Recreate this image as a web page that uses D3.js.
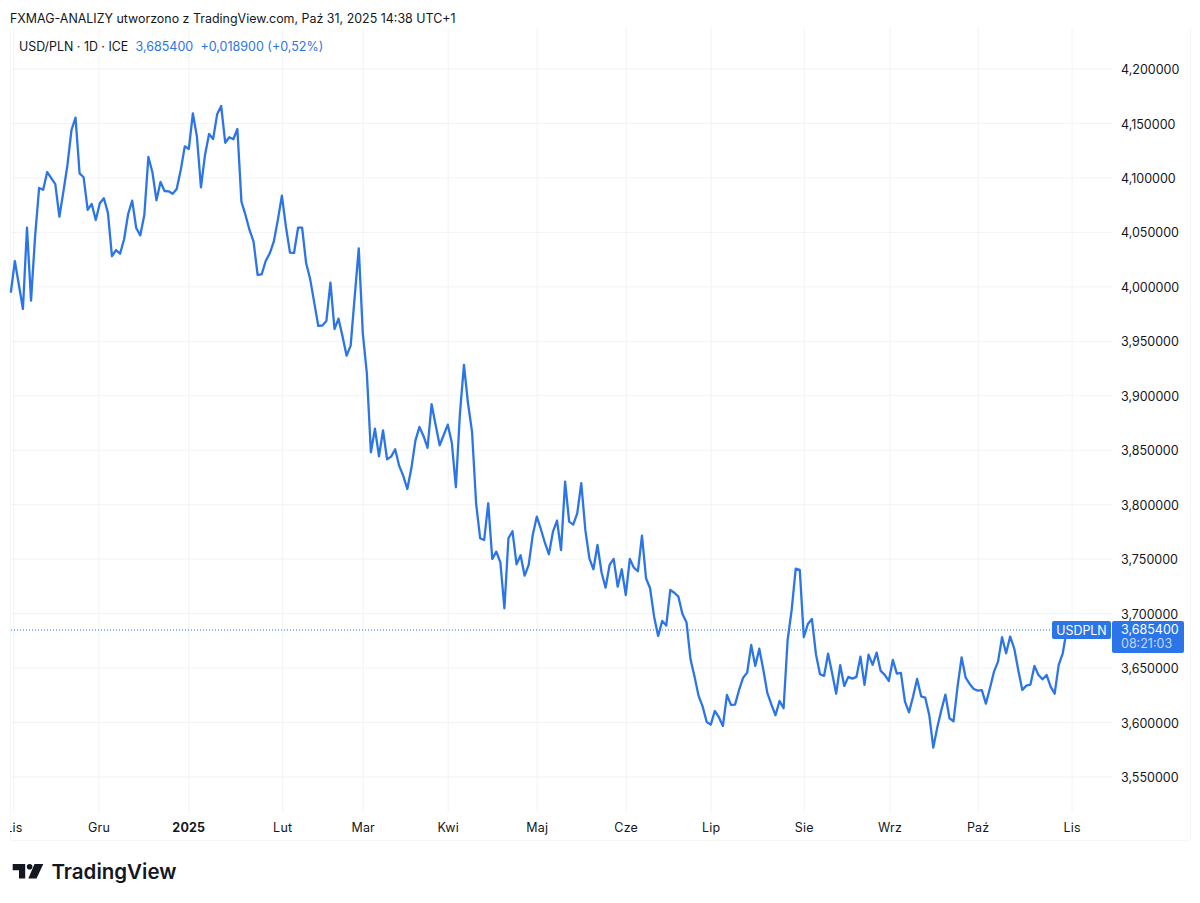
<!DOCTYPE html>
<html lang="pl">
<head>
<meta charset="utf-8">
<title>USD/PLN</title>
<script src="https://cdn.jsdelivr.net/npm/d3@7/dist/d3.min.js"></script>
<style>
html,body{margin:0;padding:0;background:#fff}
svg{display:block}
text{font-family:Inter,"Noto Sans",sans-serif}
</style>
</head>
<body>
<svg id="chart" width="1200" height="903"></svg>
<script>
// Daily USD/PLN closes, first session to last
const closes = [
3.9946,4.0237,4.0017,3.9797,4.0543,3.9873,4.0461,4.0908,4.0892,4.1054,4.0999,4.0944,4.0644,4.0874,4.1119,4.1440,4.1553,4.1042,4.1006,4.0706,
4.0761,4.0614,4.0767,4.0813,4.0681,4.0281,4.0338,4.0304,4.0437,4.0669,4.0791,4.0540,4.0473,4.0660,4.1192,4.1052,4.0795,4.0963,4.0880,4.0877,
4.0855,4.0898,4.1073,4.1290,4.1266,4.1593,4.1379,4.0914,4.1211,4.1403,4.1357,4.1584,4.1660,4.1323,4.1373,4.1355,4.1449,4.0782,4.0660,4.0522,
4.0415,4.0109,4.0115,4.0237,4.0308,4.0415,4.0614,4.0837,4.0552,4.0314,4.0311,4.0543,4.0543,4.0216,4.0069,3.9855,3.9641,3.9645,3.9687,4.0038,
3.9613,3.9708,3.9543,3.9368,3.9460,3.9910,4.0354,3.9574,3.9206,3.8481,3.8698,3.8445,3.8683,3.8417,3.8441,3.8509,3.8356,3.8264,3.8144,3.8334,
3.8588,3.8714,3.8631,3.8521,3.8922,3.8732,3.8546,3.8640,3.8735,3.8569,3.8160,3.8833,3.9283,3.8931,3.8670,3.8013,3.7692,3.7676,3.8013,3.7502,
3.7569,3.7471,3.7049,3.7692,3.7756,3.7453,3.7536,3.7348,3.7447,3.7722,3.7890,3.7777,3.7651,3.7545,3.7752,3.7853,3.7584,3.8211,3.7844,3.7817,
3.7921,3.8197,3.7768,3.7508,3.7407,3.7630,3.7380,3.7238,3.7447,3.7502,3.7247,3.7407,3.7171,3.7502,3.7422,3.7389,3.7716,3.7325,3.7233,3.6972,
3.6795,3.6933,3.6890,3.7217,3.7192,3.7156,3.6997,3.6921,3.6581,3.6421,3.6244,3.6146,3.6005,3.5981,3.6106,3.6049,3.5969,3.6253,3.6162,3.6164,
3.6299,3.6412,3.6458,3.6712,3.6520,3.6678,3.6483,3.6269,3.6165,3.6067,3.6198,3.6131,3.6758,3.7034,3.7413,3.7401,3.6783,3.6905,3.6951,3.6627,
3.6443,3.6428,3.6632,3.6453,3.6265,3.6526,3.6336,3.6419,3.6403,3.6419,3.6605,3.6345,3.6623,3.6529,3.6642,3.6474,3.6437,3.6382,3.6575,3.6449,
3.6455,3.6192,3.6094,3.6238,3.6400,3.6241,3.6229,3.6070,3.5770,3.5957,3.6116,3.6256,3.6039,3.6012,3.6330,3.6599,3.6412,3.6354,3.6308,3.6293,
3.6297,3.6174,3.6315,3.6467,3.6559,3.6783,3.6636,3.6789,3.6682,3.6483,3.6299,3.6339,3.6348,3.6520,3.6437,3.6397,3.6437,3.6330,3.6265,3.6529,
3.6636,3.6854];

// Price gridlines and their labels
const priceTicks = [4.2,4.15,4.1,4.05,4.0,3.95,3.9,3.85,3.8,3.75,3.7,3.65,3.6,3.55];

// Month boundaries on the time axis, as session numbers
const monthLabels = ["Lis","Gru","2025","Lut","Mar","Kwi","Maj","Cze","Lip","Sie","Wrz","Paź","Lis"];
const monthSessions = [0.75,21.8,44,67.2,87.1,108.1,130.1,152.1,173.1,196.1,217.3,239.1,262.3];

const lastClose = 3.6854;
const plPrice = d3.formatLocale({decimal:",",thousands:" ",grouping:[3],currency:["","zł"]}).format(".6f");

const ink = "#131722", blue = "#2c75e8", grid = "#f1f3f6";
const svg = d3.select("#chart");

const x = d3.scaleLinear().domain([0, closes.length - 1]).range([10.8, 1066.8]);
const y = d3.scaleLinear().domain([4.2, 3.55]).range([69, 777]);

// Horizontal and vertical gridlines
svg.append("g").selectAll("line").data(priceTicks).join("line")
  .attr("x1", 11).attr("x2", 1112).attr("y1", d => y(d)).attr("y2", d => y(d))
  .attr("stroke", grid).attr("stroke-width", 1);
svg.append("g").selectAll("line").data(monthSessions).join("line")
  .attr("x1", d => x(d)).attr("x2", d => x(d)).attr("y1", 28).attr("y2", 812)
  .attr("stroke", grid).attr("stroke-width", 1);

// Pane edges
svg.append("path").attr("d", "M10.5,28V840M10.5,840.5H1190M1190.5,28V840")
  .attr("fill", "none").attr("stroke", "#f5f6f8");

// Price axis
const yAxis = d3.axisRight(y).tickValues(priceTicks).tickFormat(plPrice).tickSize(0).tickPadding(0);
const yG = svg.append("g").attr("transform", "translate(1121,0.6)").call(yAxis);
yG.select(".domain").remove();
yG.selectAll("text").attr("font-size", 12.5).attr("fill", ink).attr("font-family", "Inter");

// Time axis, clipped at the pane edge
svg.append("clipPath").attr("id", "paneClip").append("rect").attr("x", 10).attr("y", 812).attr("width", 1180).attr("height", 28);
svg.append("g").attr("clip-path", "url(#paneClip)").selectAll("text").data(monthLabels).join("text")
  .attr("x", (d, i) => x(monthSessions[i]))
  .attr("y", 831.5).attr("text-anchor", "middle")
  .attr("font-size", 12.5).attr("letter-spacing", 0.2)
  .attr("font-weight", d => d === "2025" ? 700 : 400)
  .attr("fill", ink).text(d => d);

// Last-price dotted level
svg.append("line").attr("x1", 11).attr("x2", 1052).attr("y1", y(lastClose) + 0.5).attr("y2", y(lastClose) + 0.5)
  .attr("stroke", "#1f6fe8").attr("stroke-width", 1).attr("stroke-dasharray", "1 2");

// Close line
const line = d3.line().x((d, i) => x(i)).y(d => y(d)).curve(d3.curveLinear);
svg.append("path").datum(closes).attr("d", line)
  .attr("fill", "none").attr("stroke", blue).attr("stroke-width", 2.3).attr("stroke-linejoin", "round");

// Symbol tag and price tag
svg.append("rect").attr("x", 1052).attr("y", 621).attr("width", 59).attr("height", 18).attr("rx", 2).attr("fill", blue);
svg.append("text").attr("x", 1081.5).attr("y", 634.5).attr("text-anchor", "middle").attr("font-size", 12.4).attr("fill", "#fff").text("USDPLN");
svg.append("rect").attr("x", 1112).attr("y", 621).attr("width", 72).attr("height", 32).attr("rx", 2).attr("fill", blue);
svg.append("text").attr("x", 1121).attr("y", 634).attr("font-size", 12.5).attr("fill", "#fff").text(plPrice(lastClose));
svg.append("text").attr("x", 1121).attr("y", 648).attr("font-size", 12.5).attr("fill", "#fff").attr("fill-opacity", 0.72).text("08:21:03");

// Header lines
svg.append("text").attr("x", 10).attr("y", 22.5).attr("font-size", 12.45).attr("fill", ink)
  .text("FXMAG-ANALIZY utworzono z TradingView.com, Paź 31, 2025 14:38 UTC+1");
svg.append("text").attr("x", 19).attr("y", 51).attr("font-size", 12.4).attr("fill", ink).text("USD/PLN · 1D · ICE");
svg.append("text").attr("x", 135.5).attr("y", 51).attr("font-size", 12.5).attr("fill", blue).text(plPrice(lastClose));
svg.append("text").attr("x", 200.5).attr("y", 51).attr("font-size", 12.5).attr("fill", blue).text("+0,018900 (+0,52%)");

// Brand mark and wordmark
const brand = svg.append("g").attr("fill", "#131722");
brand.append("path").attr("d", "M12.7,864H25.2V878.5H19V870.2H12.7Z");
brand.append("circle").attr("cx", 29.6).attr("cy", 866.8).attr("r", 2.8);
brand.append("path").attr("d", "M34.5,864H43.3L36.5,878.5H28.3Z");
brand.append("text").attr("x", 51.5).attr("y", 878.5).attr("font-size", 20.5).attr("font-weight", 600).text("TradingView");
</script>
</body>
</html>
